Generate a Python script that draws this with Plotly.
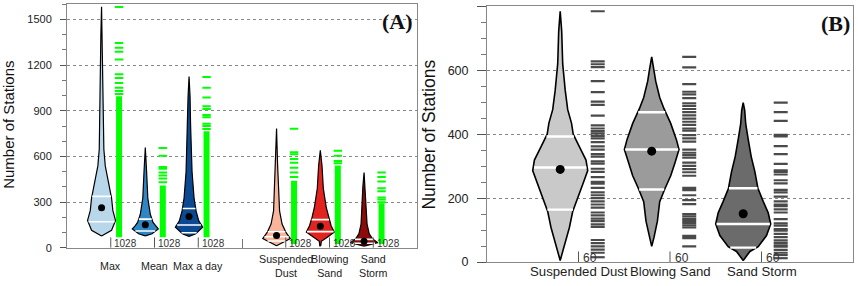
import numpy as np
import plotly.graph_objects as go

# ---------------- Panel A data ----------------
cats_a = ["Max", "Mean", "Max a day", "Suspended<br>Dust", "Blowing<br>Sand", "Sand<br>Storm"]
pos_a = [1, 2, 3, 5, 6, 7]
colors_a = ["#b9d7ea", "#2f86c3", "#0b4a92", "#f8b59b", "#e2231f", "#8c0a0a"]
count_a = ["1028", "1028", "1028", "1028", "1028", "1028"]

# violin outlines: levels (Number of Stations) and density half-widths
lev_max = [77, 115, 180, 244, 327, 436, 538, 647, 814, 994, 1200, 1400, 1583]
den_max = [0, 10, 14, 11.3, 10, 6.7, 3.7, 2.3, 2, 1.3, 1, 0.7, 0]
lev_mean = [78, 92, 124, 145, 167, 220, 327, 500, 658]
den_mean = [0, 6.7, 13, 10, 7.7, 5, 2.5, 1.3, 0]
lev_maxday = [75, 92, 135, 177, 242, 327, 500, 647, 814, 994, 1126]
den_maxday = [0, 6.7, 13.7, 9.7, 7, 5, 3, 2, 1.5, 1, 0]
lev_sd_a = [13, 60, 103, 156, 242, 391, 550, 784]
den_sd_a = [0, 13.8, 9.2, 5.5, 3, 1.7, 1, 0]
lev_bs_a = [13, 43, 70, 103, 145, 199, 263, 391, 540, 641]
den_bs_a = [0.5, 1, 7, 14, 10.8, 8.3, 6, 3, 1.7, 0]
lev_ss_a = [11, 34, 60, 92, 156, 284, 400, 494]
den_ss_a = [0, 13.7, 8.3, 5.2, 3, 2, 1.2, 0]
levels_a = [lev_max, lev_mean, lev_maxday, lev_sd_a, lev_bs_a, lev_ss_a]
dens_a = [den_max, den_mean, den_maxday, den_sd_a, den_bs_a, den_ss_a]

quant_a = [[338, 171], [188, 110], [258, 150, 99], [105, 72, 45], [185, 106], [55, 30]]
mean_a = [263, 152, 205, 81, 141, 43]

rug_ticks_a = [
    [1583, 1346, 1314, 1288, 1237, 1141, 1115, 1083, 1051, 1030, 1010],
    [655, 605, 530, 520, 495, 475, 455, 430],
    [1122, 1051, 987, 930, 912, 872, 858, 815, 800, 780],
    [782, 628, 615, 583, 558, 526, 494, 465],
    [638, 605, 570, 556],
    [495, 465, 435, 392, 372, 330, 318, 300],
]
rug_lo_a = [70, 70, 70, 25, 25, 25]
rug_hi_a = [995, 410, 765, 440, 540, 292]

# ---------------- Panel B data ----------------
cats_b = ["Suspended Dust", "Blowing Sand", "Sand Storm"]
pos_b = [1, 2, 3]
colors_b = ["#c9c9c9", "#9b9b9b", "#6b6b6b"]
count_b = ["60", "60", "60"]

lev_sd_b = [5, 57, 108, 158, 209, 250, 286, 319, 362, 400, 435, 477, 538, 620, 722, 785]
den_sd_b = [0, 4.8, 9.2, 12.5, 18.8, 23.3, 27.5, 25.8, 19, 13, 11.3, 7.5, 5, 2.5, 1.5, 0]
lev_bs_b = [49, 77, 128, 189, 230, 270, 311, 352, 383, 434, 480, 515, 566, 606, 642]
den_bs_b = [0, 2.3, 5.7, 8, 13.3, 19, 23.3, 27.3, 24.7, 19, 12.3, 8, 4, 2, 0]
lev_ss_b = [5, 33, 48, 83, 119, 154, 190, 231, 282, 330, 384, 433, 475, 499]
den_ss_b = [0, 6.7, 15, 23.3, 27.5, 25, 20, 14.7, 11.7, 8, 5, 2.5, 1.5, 0]
levels_b = [lev_sd_b, lev_bs_b, lev_ss_b]
dens_b = [den_sd_b, den_bs_b, den_ss_b]

quant_b = [[393, 296, 164], [469, 352, 227], [231, 119, 45]]
mean_b = [290, 347, 151]

rug_b = [
    [785, 628, 619, 610, 566, 532, 502, 492, 458, 428, 418, 410, 403, 395, 387, 375, 362,
     352, 338, 330, 315, 308, 292, 282, 266, 251, 245, 232, 218, 209, 200, 190, 180, 170,
     155, 146, 136, 128, 118, 110, 69, 59, 49, 39, 29, 15],
    [642, 609, 557, 533, 525, 513, 497, 489, 479, 469, 459, 449, 439, 429, 418, 411, 397,
     387, 377, 352, 342, 335, 327, 311, 301, 291, 281, 270, 232, 225, 209, 194, 181, 150,
     143, 135, 129, 122, 115, 108, 82, 75, 49],
    [499, 469, 442, 398, 393, 363, 338, 307, 287, 282, 274, 256, 246, 226, 218, 205, 190,
     180, 175, 165, 155, 134, 121, 114, 103, 98, 88, 78, 68, 60, 52, 48, 38, 29, 22, 12],
]

# ---------------- styling constants ----------------
FONT = "Liberation Sans, Arial, Helvetica, sans-serif"
SERIF = "Liberation Serif, Times New Roman, serif"
W, H = 858, 286
wscale_a, voff_a, roff_a = 1 / 43.75, -0.21, 0.19
wscale_b, voff_b, roff_b = 1 / 91.5, -0.20, 0.21

fig = go.Figure()


def add_bean(xa, ya, c, lev, den, col, quants, mval, wscale, lw, qw, msize):
    lev = np.asarray(lev, float)
    hw = np.asarray(den, float) * wscale
    xs = np.concatenate([c + hw, (c - hw)[::-1], [c + hw[0]]])
    ys = np.concatenate([lev, lev[::-1], [lev[0]]])
    fig.add_trace(go.Scatter(x=xs, y=ys, mode="lines", fill="toself", fillcolor=col,
                             line=dict(color="black", width=lw), xaxis=xa, yaxis=ya,
                             hoverinfo="skip", showlegend=False))
    for q in quants:
        w = np.interp(q, lev, hw) * 0.97
        fig.add_trace(go.Scatter(x=[c - w, c + w], y=[q, q], mode="lines",
                                 line=dict(color="white", width=qw), xaxis=xa, yaxis=ya,
                                 hoverinfo="skip", showlegend=False))
    fig.add_trace(go.Scatter(x=[c], y=[mval], mode="markers",
                             marker=dict(color="black", size=msize), xaxis=xa, yaxis=ya,
                             showlegend=False))


# Panel A beans and rugs
for i, p in enumerate(pos_a):
    add_bean("x", "y", p + voff_a, levels_a[i], dens_a[i], colors_a[i], quant_a[i],
             mean_a[i], wscale_a, 1.2, 1.6, 7)
    rx = p + roff_a
    fig.add_trace(go.Scatter(x=[rx, rx], y=[rug_lo_a[i], rug_hi_a[i]], mode="lines",
                             line=dict(color="#00ff00", width=6), xaxis="x", yaxis="y",
                             hoverinfo="skip", showlegend=False))
    fig.add_trace(go.Scatter(x=[rx] * len(rug_ticks_a[i]), y=rug_ticks_a[i], mode="markers",
                             marker=dict(symbol="line-ew", size=6,
                                         line=dict(color="#00ff00", width=2)),
                             xaxis="x", yaxis="y", showlegend=False))
    fig.add_trace(go.Scatter(x=[p, p], y=[0, 68], mode="lines",
                             line=dict(color="#555", width=1), xaxis="x", yaxis="y",
                             hoverinfo="skip", showlegend=False))

# Panel B beans and rugs
for i, p in enumerate(pos_b):
    add_bean("x2", "y2", p + voff_b, levels_b[i], dens_b[i], colors_b[i], quant_b[i],
             mean_b[i], wscale_b, 1.6, 2.4, 9)
    rx = p + roff_b
    fig.add_trace(go.Scatter(x=[rx] * len(rug_b[i]), y=rug_b[i], mode="markers",
                             marker=dict(symbol="line-ew", size=10,
                                         line=dict(color="#4a4a4a", width=2.2)),
                             xaxis="x2", yaxis="y2", showlegend=False))
    fig.add_trace(go.Scatter(x=[p, p], y=[0, 33], mode="lines",
                             line=dict(color="#555", width=1), xaxis="x2", yaxis="y2",
                             hoverinfo="skip", showlegend=False))

annotations = []
for i, p in enumerate(pos_a):
    annotations.append(dict(x=p, xref="x", y=1 - 272.5 / H, yref="paper", text=cats_a[i],
                            showarrow=False, xanchor="center", yanchor="middle",
                            font=dict(family=FONT, size=10.7, color="#222")))
    annotations.append(dict(x=p + 0.03, xref="x", y=26, yref="y", text=count_a[i],
                            showarrow=False, xanchor="left", yanchor="middle",
                            font=dict(family=FONT, size=10, color="#333")))
for i, p in enumerate(pos_b):
    annotations.append(dict(x=p, xref="x2", y=1 - 278.5 / H, yref="paper", text=cats_b[i],
                            showarrow=False, xanchor="center", yanchor="middle",
                            font=dict(family=FONT, size=13.2, color="#222")))
    annotations.append(dict(x=p + 0.03, xref="x2", y=14, yref="y2", text=count_b[i],
                            showarrow=False, xanchor="left", yanchor="middle",
                            font=dict(family=FONT, size=12, color="#333")))

annotations += [
    dict(x=9 / W, y=1 - 128 / H, xref="paper", yref="paper", text="Number of Stations",
         textangle=-90, showarrow=False, xanchor="center", yanchor="middle",
         font=dict(family=FONT, size=15, color="#111")),
    dict(x=429 / W, y=1 - 138 / H, xref="paper", yref="paper", text="Number of Stations",
         textangle=-90, showarrow=False, xanchor="center", yanchor="middle",
         font=dict(family=FONT, size=17.5, color="#111")),
    dict(x=415 / W, y=1 - 22.5 / H, xref="paper", yref="paper", text="<b>(A)</b>",
         showarrow=False, xanchor="right", yanchor="middle",
         font=dict(family=SERIF, size=22, color="#111")),
    dict(x=851.5 / W, y=1 - 24 / H, xref="paper", yref="paper", text="<b>(B)</b>",
         showarrow=False, xanchor="right", yanchor="middle",
         font=dict(family=SERIF, size=22, color="#111")),
]

common_y = dict(showline=True, mirror=True, linecolor="#888", linewidth=1,
                showgrid=True, griddash="dot", gridcolor="#888", gridwidth=1,
                zeroline=False, ticks="outside", tickcolor="#555")

fig.update_layout(
    width=W, height=H, autosize=False,
    margin=dict(l=0, r=0, t=0, b=0),
    paper_bgcolor="white", plot_bgcolor="white",
    showlegend=False,
    xaxis=dict(domain=[67 / W, 417 / W], range=[0, 8], showline=True, mirror=True,
               linecolor="#888", linewidth=1, showgrid=False, zeroline=False,
               tickvals=[0, 4, 8], ticks="inside", ticklen=9, tickcolor="#777",
               showticklabels=False),
    yaxis=dict(domain=[1 - 254 / H, 1 - 4.4 / H], range=[0, 1600], tick0=0, dtick=300,
               ticklen=6, ticklabelstandoff=6,
               tickfont=dict(family=FONT, size=11, color="#222"),
               minor=dict(dtick=100, ticks="outside", ticklen=4, tickcolor="#777",
                          showgrid=False),
               **common_y),
    xaxis2=dict(domain=[487 / W, 853 / W], range=[0, 4], showline=True, mirror=True,
                linecolor="#888", linewidth=1, showgrid=False, zeroline=False,
                ticks="", showticklabels=False, anchor="y2"),
    yaxis2=dict(domain=[1 - 268.6 / H, 1 - 6.6 / H], range=[0, 800], tick0=0, dtick=200,
                ticklen=9, ticklabelstandoff=6, anchor="x2",
                tickfont=dict(family=FONT, size=12.5, color="#222"),
                minor=dict(dtick=50, ticks="outside", ticklen=5, tickcolor="#777",
                           showgrid=False),
                **common_y),
    annotations=annotations,
)

fig.write_html("out.html", config={"displayModeBar": False},
               post_script="document.body.style.margin='0';document.body.style.overflow='hidden';")
